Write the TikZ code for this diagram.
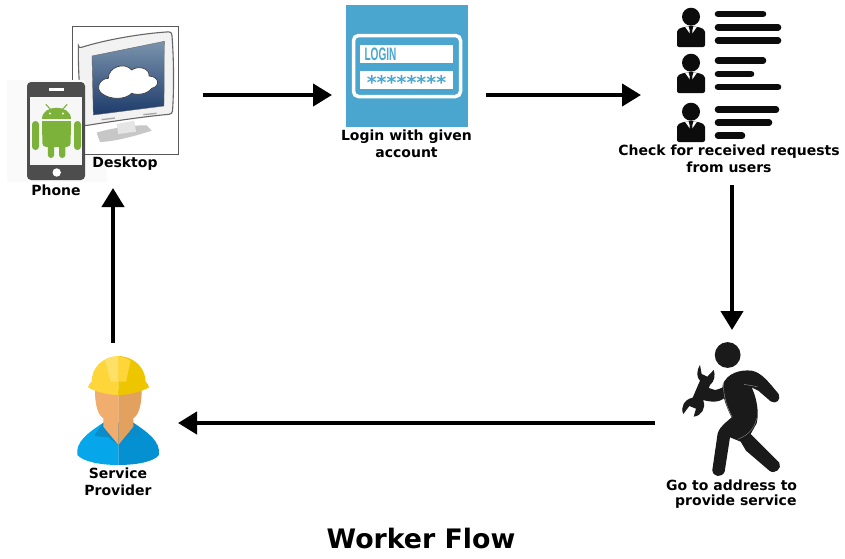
\documentclass[tikz,border=0pt]{standalone}
\usepackage{fontspec}
\setmainfont{DejaVu Sans}
\newfontfamily\logofont{Liberation Sans}
\usetikzlibrary{arrows.meta}
\definecolor{loginblue}{HTML}{4BA6CF}
\definecolor{droid}{HTML}{7CB23A}
\definecolor{phonegray}{HTML}{4D4D4D}
\definecolor{ink}{HTML}{0C0C0C}
\definecolor{walker}{HTML}{1A1A1A}
\definecolor{hatL}{HTML}{FFD63A}
\definecolor{hatR}{HTML}{EDC600}
\definecolor{hatT}{HTML}{FFE066}
\definecolor{skinL}{HTML}{F0AD6E}
\definecolor{skinR}{HTML}{E3A15F}
\definecolor{shirtL}{HTML}{06A7EA}
\definecolor{shirtR}{HTML}{0590D2}
\definecolor{collar}{HTML}{0A8CCB}
\definecolor{screentop}{HTML}{7A93AD}
\definecolor{screenmid}{HTML}{466A90}
\definecolor{screenbot}{HTML}{1D3B6B}
\tikzset{
  x=1pt,y=-1pt,
  flow/.style={line width=4.2pt,black,-{Triangle[length=19pt,width=22pt]}},
  lab/.style={font=\fontsize{14pt}{17pt}\selectfont\bfseries,align=center,inner sep=0pt,text=black},
  zoomed/.style={shift={(#1)},x=0.3333pt,y=-0.3333pt},
  bar/.style={line width=6.6pt,line cap=round,ink},
  userpic/.pic={
    \fill[ink] (0,0) circle (9);
    \fill[ink,rounded corners=2pt] (-14,30.3) -- (-14,13) -- (-7,10) -- (7,10) -- (14,13) -- (14,30.3) -- cycle;
    \fill[white] (-6,10) -- (0,18.5) -- (6,10) -- cycle;
    \fill[ink] (-2.4,9.5) -- (2.4,9.5) -- (1.2,14) -- (2,21) -- (-2,21) -- (-1.2,14) -- cycle;
  }
}
\begin{document}
\begin{tikzpicture}
\useasboundingbox (0,0) rectangle (845,558);
\fill[white] (0,0) rectangle (845,558);

% ---------- desktop
\node[draw=black!65,line width=.6pt,fill=white,minimum width=106pt,minimum height=128pt,inner sep=0pt] (desktopbox) at (125,90) {};
\begin{scope}[zoomed={0,0}]
  \fill[black!22] (290,398) .. controls (330,385) and (400,375) .. (440,376) -- (455,392) .. controls (400,410) and (340,425) .. (300,426) -- cycle;
  \fill[black!10] (350,372) -- (403,362) -- (408,395) -- (355,402) -- cycle;
  \draw[black!60,line width=1.1pt,fill=black!5,rounded corners=3pt] (235,145) .. controls (320,118) and (430,100) .. (515,95) .. controls (522,180) and (522,270) .. (517,342) .. controls (430,350) and (330,365) .. (250,378) .. controls (240,300) and (235,220) .. (235,145) -- cycle;
  \shade[top color=screentop,middle color=screenmid,bottom color=screenbot,draw=black!60] (276,168) -- (493,124) -- (492,318) -- (280,345) -- cycle;
  \fill[white,draw=black!75,line width=.7pt] (305,280) .. controls (285,265) and (300,235) .. (325,235) .. controls (325,200) and (375,185) .. (395,210) .. controls (415,195) and (450,205) .. (447,228) .. controls (480,230) and (480,260) .. (455,265) .. controls (440,285) and (410,285) .. (395,280) .. controls (375,300) and (330,300) .. (305,280) -- cycle;
  \fill[black!35] (305,357) -- (345,352) -- (345,356) -- (305,361) -- cycle;
  \fill[black!35] (430,342) -- (470,338) -- (470,342) -- (430,346) -- cycle;
\end{scope}

% ---------- phone
\fill[black!2] (7,80) rectangle (85,182);
\fill[black!2] (85,155) rectangle (107,182);
\node[fill=phonegray,rounded corners=4pt,minimum width=58pt,minimum height=98pt,inner sep=0pt] (phonebody) at (56,131) {};
\fill[black!3] (30,97) rectangle (82,165);
\fill[white] (48.5,87.5) rectangle (63.5,90.5);
\fill[white] (56.7,172.5) circle (4.2);
\begin{scope}[droid]
  \fill (42.3,119) .. controls (42.3,104) and (70.7,104) .. (70.7,119) -- cycle;
  \draw[line width=1.1pt,line cap=round] (51,110) -- (46,104.5);
  \draw[line width=1.1pt,line cap=round] (62,110) -- (67,104.5);
  \fill[rounded corners=4pt] (42.3,121) -- (70.7,121) -- (70.7,147) -- (42.3,147) -- cycle;
  \fill (42.3,121) rectangle (70.7,135);
  \fill[rounded corners=3.4pt] (32,121) rectangle (39,150);
  \fill[rounded corners=3.4pt] (74,121) rectangle (81,150);
  \fill[rounded corners=3.2pt] (47.8,140) rectangle (54.2,158);
  \fill[rounded corners=3.2pt] (59,140) rectangle (65.4,158);
\end{scope}
\fill[white] (50,113.5) circle (1.2);
\fill[white] (63,113.5) circle (1.2);
\node[lab] (desktoplabel) at (125,163.5) {Desktop};
\node[lab] (phonelabel) at (56,190.5) {Phone};

% ---------- login
\node[fill=loginblue,minimum size=122pt,inner sep=0pt] (loginicon) at (407,66) {};
\draw[white,line width=3.5pt,rounded corners=5pt] (353.5,35.5) rectangle (460.5,96.5);
\fill[white] (360,45) rectangle (453,63);
\fill[white] (360,71) rectangle (453,89);
\node[inner sep=0pt,text=loginblue,xscale=.56,font=\logofont\fontsize{18pt}{18pt}\selectfont\bfseries] (logintext) at (380.5,54) {LOGIN};
\node[inner sep=0pt,text=loginblue,font=\fontsize{19pt}{19pt}\selectfont\bfseries] (loginstars) at (406.5,82) {********};
\node[lab] (loginlabel) at (406.5,143.5) {Login with given\\account};

% ---------- users
\pic at (691,16.7) {userpic};
\pic at (691,62.7) {userpic};
\pic at (691,111.7) {userpic};
\draw[bar] (718,14) -- (763,14);
\draw[bar] (718,27.3) -- (778,27.3);
\draw[bar] (718,40.7) -- (778,40.7);
\draw[bar] (718,60.7) -- (763,60.7);
\draw[bar] (718,74) -- (751,74);
\draw[bar] (718,87) -- (778,87);
\draw[bar] (718,109.7) -- (776,109.7);
\draw[bar] (718,122.7) -- (769,122.7);
\draw[bar] (718,135.7) -- (742,135.7);
\node[lab] (userslabel) at (729,158.5) {Check for received requests\\from users};

% ---------- walking worker
\begin{scope}[zoomed={650,330}]
  \fill[walker] (233,75) circle[radius=12.9pt];
  \fill[walker] (218,165) .. controls (230,130) and (270,118) .. (305,122) .. controls (335,128) and (355,155) .. (386,192) .. controls (394,210) and (378,224) .. (362,214) -- (325,182) -- (305,172) .. controls (320,205) and (328,245) .. (320,280) -- (302,312) -- (388,398) .. controls (397,415) and (375,435) .. (358,422) -- (288,362) -- (272,335) -- (240,322) -- (224,425) .. controls (216,444) and (188,442) .. (187,420) -- (203,310) .. controls (212,285) and (232,275) .. (245,262) .. controls (228,230) and (216,195) .. (218,165) -- cycle;
  \fill[walker] (232,165) -- (232,195) .. controls (215,217) and (190,220) .. (153,208) -- (165,170) -- (195,180) .. controls (210,178) and (220,170) .. (232,165) -- cycle;
  \fill[walker] (150,105) .. controls (138,125) and (140,142) .. (150,152) -- (128,203) .. controls (103,208) and (90,232) .. (100,252) -- (118,228) -- (138,236) -- (131,260) .. controls (155,257) and (168,235) .. (160,212) -- (180,165) .. controls (193,155) and (197,135) .. (191,120) -- (172,140) -- (155,132) -- cycle;
  \draw[black!35,line width=.35pt] (220,160) .. controls (220,200) and (232,235) .. (247,262);
  \draw[black!35,line width=.35pt] (282,163) -- (322,170);
  \draw[black!45,line width=.35pt] (320,265) .. controls (312,300) and (290,318) .. (262,328);
\end{scope}
\node[lab,anchor=west] (walklabel1) at (666,485) {Go to address to};
\node[lab,anchor=west] (walklabel2) at (675,502) {provide service};

% ---------- service provider
\begin{scope}[zoomed={60,340}]
  \fill[shirtL] (175.5,375) .. controls (120,375) and (70,365) .. (52,345) .. controls (46,305) and (85,278) .. (130,248) -- (175.5,250) -- cycle;
  \fill[shirtR] (175,375) .. controls (230,375) and (282,365) .. (297,345) .. controls (302,305) and (265,278) .. (220,248) -- (175,250) -- cycle;
  \fill[collar] (130,248) -- (102,288) -- (145,292) -- (175,315) -- (205,292) -- (248,288) -- (220,248) -- cycle;
  \fill[skinL] (105,150) -- (175.5,150) -- (175.5,315) -- (130,260) -- (130,235) .. controls (115,225) and (105,200) .. (105,150) -- cycle;
  \fill[skinR] (245,150) -- (175,150) -- (175,315) -- (220,260) -- (220,235) .. controls (235,225) and (245,200) .. (245,150) -- cycle;
  \fill[hatL] (175.5,48) .. controls (125,50) and (95,85) .. (95,125) .. controls (90,130) and (85,135) .. (84,142) .. controls (110,158) and (150,165) .. (175.5,165) -- cycle;
  \fill[hatR] (175,48) .. controls (225,50) and (256,85) .. (257,125) .. controls (262,130) and (266,135) .. (267,142) .. controls (240,158) and (200,165) .. (175,165) -- cycle;
  \fill[hatT] (135,60) .. controls (150,52) and (165,48) .. (175,48) -- (175,125) -- (152,125) -- cycle;
  \fill[hatL] (175,48) .. controls (185,50) and (200,55) .. (212,62) -- (198,125) -- (175,125) -- cycle;
\end{scope}
\node[lab] (providerlabel) at (118,482) {Service\\Provider};

% ---------- title
\node[inner sep=0pt,font=\fontsize{26.8pt}{30pt}\selectfont\bfseries] (title) at (421,538) {Worker Flow};

% ---------- connectors
\coordinate (a1) at (203,95);   \coordinate (a2) at (332,95);
\coordinate (b1) at (486,95);   \coordinate (b2) at (641,95);
\coordinate (c1) at (732,185);  \coordinate (c2) at (732,330);
\coordinate (d1) at (655,423);  \coordinate (d2) at (178,423);
\coordinate (e1) at (113,343);  \coordinate (e2) at (113,188);
\draw[flow] (a1) -- (a2);
\draw[flow] (b1) -- (b2);
\draw[flow] (c1) -- (c2);
\draw[flow] (d1) -- (d2);
\draw[flow] (e1) -- (e2);
\end{tikzpicture}
\end{document}
